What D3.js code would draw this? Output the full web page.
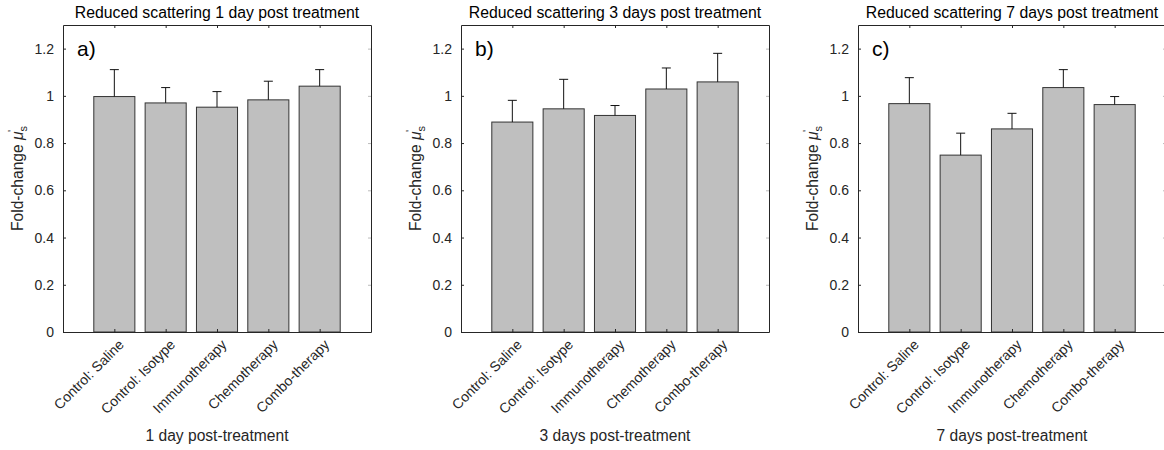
<!DOCTYPE html>
<html>
<head>
<meta charset="utf-8">
<script src="https://cdn.jsdelivr.net/npm/d3@7"></script>
<style>
  html, body { margin: 0; padding: 0; background: #fff; }
  svg { display: block; font-family: "Liberation Sans", Arial, sans-serif; }
</style>
</head>
<body>
<svg id="chart" width="1164" height="450"></svg>
<script>
const categories = ["Control: Saline", "Control: Isotype", "Immunotherapy", "Chemotherapy", "Combo-therapy"];
const day1Means = [0.997, 0.970, 0.952, 0.983, 1.041];
const day1Errors = [0.114, 0.065, 0.066, 0.079, 0.070];
const day3Means = [0.889, 0.945, 0.917, 1.029, 1.059];
const day3Errors = [0.092, 0.125, 0.042, 0.089, 0.121];
const day7Means = [0.967, 0.749, 0.860, 1.035, 0.963];
const day7Errors = [0.110, 0.093, 0.066, 0.076, 0.034];
const yTickValues = [0, 0.2, 0.4, 0.6, 0.8, 1, 1.2];
const yTickLabels = ["0", "0.2", "0.4", "0.6", "0.8", "1", "1.2"];
const panelTitles = ["Reduced scattering 1 day post treatment", "Reduced scattering 3 days post treatment", "Reduced scattering 7 days post treatment"];
const panelXLabels = ["1 day post-treatment", "3 days post-treatment", "7 days post-treatment"];
const panelLetters = ["a)", "b)", "c)"];

const panels = [
  { means: day1Means, errors: day1Errors },
  { means: day3Means, errors: day3Errors },
  { means: day7Means, errors: day7Errors }
];

const svg = d3.select("#chart");
const axisColor = "#262626";
const panelLefts = [63, 461, 858];
const plotW = 308, plotTop = 25, plotBottom = 332;

panels.forEach((p, pi) => {
  const left = panelLefts[pi];
  const g = svg.append("g").attr("transform", `translate(${left},0)`);
  const x = d3.scaleLinear().domain([0, categories.length + 1]).range([0, plotW]);
  const y = d3.scaleLinear().domain([0, 1.3]).range([plotBottom, plotTop]);
  const bw = x(0.8) - x(0);

  // bars
  g.selectAll("rect.bar").data(p.means).join("rect")
    .attr("class", "bar")
    .attr("x", (d, i) => x(i + 1) - bw / 2)
    .attr("y", d => y(d))
    .attr("width", bw)
    .attr("height", d => y(0) - y(d))
    .attr("fill", "#bfbfbf")
    .attr("stroke", "#333")
    .attr("stroke-width", 1);

  // error bars (upper only)
  const eg = g.selectAll("g.err").data(p.means.map((m, i) => ({ m, e: p.errors[i], i }))).join("g").attr("class", "err");
  eg.append("line")
    .attr("x1", d => x(d.i + 1)).attr("x2", d => x(d.i + 1))
    .attr("y1", d => y(d.m)).attr("y2", d => y(d.m + d.e))
    .attr("stroke", "#111").attr("stroke-width", 1);
  eg.append("line")
    .attr("x1", d => x(d.i + 1) - 4.5).attr("x2", d => x(d.i + 1) + 4.5)
    .attr("y1", d => y(d.m + d.e)).attr("y2", d => y(d.m + d.e))
    .attr("stroke", "#111").attr("stroke-width", 1);

  // left axis
  const yAxis = d3.axisLeft(y).tickValues(yTickValues)
    .tickFormat((d, i) => yTickLabels[i]).tickSizeInner(-3).tickSizeOuter(0).tickPadding(9);
  const ya = g.append("g").call(yAxis);
  ya.attr("font-family", null);
  ya.select(".domain").attr("stroke", axisColor);
  ya.selectAll(".tick line").attr("stroke", axisColor);
  ya.selectAll(".tick text").attr("fill", axisColor).attr("font-size", 14);

  // right axis (ticks only, faint)
  const yAxisR = d3.axisRight(y).tickValues(yTickValues).tickFormat("").tickSizeInner(-3).tickSizeOuter(0);
  const yr = g.append("g").attr("transform", `translate(${plotW},0)`).call(yAxisR);
  yr.select(".domain").attr("stroke", axisColor);
  yr.selectAll(".tick line").attr("stroke", "#bbb");

  // bottom axis
  const xAxis = d3.axisBottom(x).tickValues(d3.range(1, categories.length + 1))
    .tickFormat("").tickSizeInner(-3).tickSizeOuter(0);
  const xa = g.append("g").attr("transform", `translate(0,${plotBottom})`).call(xAxis);
  xa.select(".domain").attr("stroke", axisColor);
  xa.selectAll(".tick line").attr("stroke", axisColor);

  // top axis
  const xAxisT = d3.axisTop(x).tickValues(d3.range(1, categories.length + 1))
    .tickFormat("").tickSizeInner(-3).tickSizeOuter(0);
  const xt = g.append("g").attr("transform", `translate(0,${plotTop})`).call(xAxisT);
  xt.select(".domain").attr("stroke", axisColor);
  xt.selectAll(".tick line").attr("stroke", axisColor);

  // rotated category labels
  g.selectAll("text.cat").data(categories).join("text")
    .attr("class", "cat")
    .attr("transform", (d, i) => `translate(${x(i + 1) + 7},${plotBottom + 10}) rotate(-45)`)
    .attr("text-anchor", "end")
    .attr("dy", "0.35em")
    .attr("font-size", 14)
    .attr("fill", axisColor)
    .text(d => d);

  // title
  g.append("text")
    .attr("x", plotW / 2).attr("y", 18)
    .attr("text-anchor", "middle")
    .attr("font-size", 15.8)
    .attr("fill", "#000")
    .text(panelTitles[pi]);

  // x label
  g.append("text")
    .attr("x", plotW / 2).attr("y", 441)
    .attr("text-anchor", "middle")
    .attr("font-size", 15.6)
    .attr("fill", axisColor)
    .text(panelXLabels[pi]);

  // y label
  const yl = g.append("text")
    .attr("transform", `translate(-40,${(plotTop + plotBottom) / 2}) rotate(-90)`)
    .attr("text-anchor", "middle")
    .attr("font-size", 15.6)
    .attr("fill", axisColor);
  yl.append("tspan").text("Fold-change ");
  yl.append("tspan").attr("font-style", "italic").text("\u03BC");
  yl.append("tspan").attr("font-size", 11).attr("dy", 4).text("s");
  yl.append("tspan").attr("font-size", 11).attr("dy", -11).attr("dx", -6).text("'");

  // panel letter
  g.append("text")
    .attr("x", 14).attr("y", 56)
    .attr("font-size", 21)
    .attr("fill", "#000")
    .text(panelLetters[pi]);
});
</script>
</body>
</html>
